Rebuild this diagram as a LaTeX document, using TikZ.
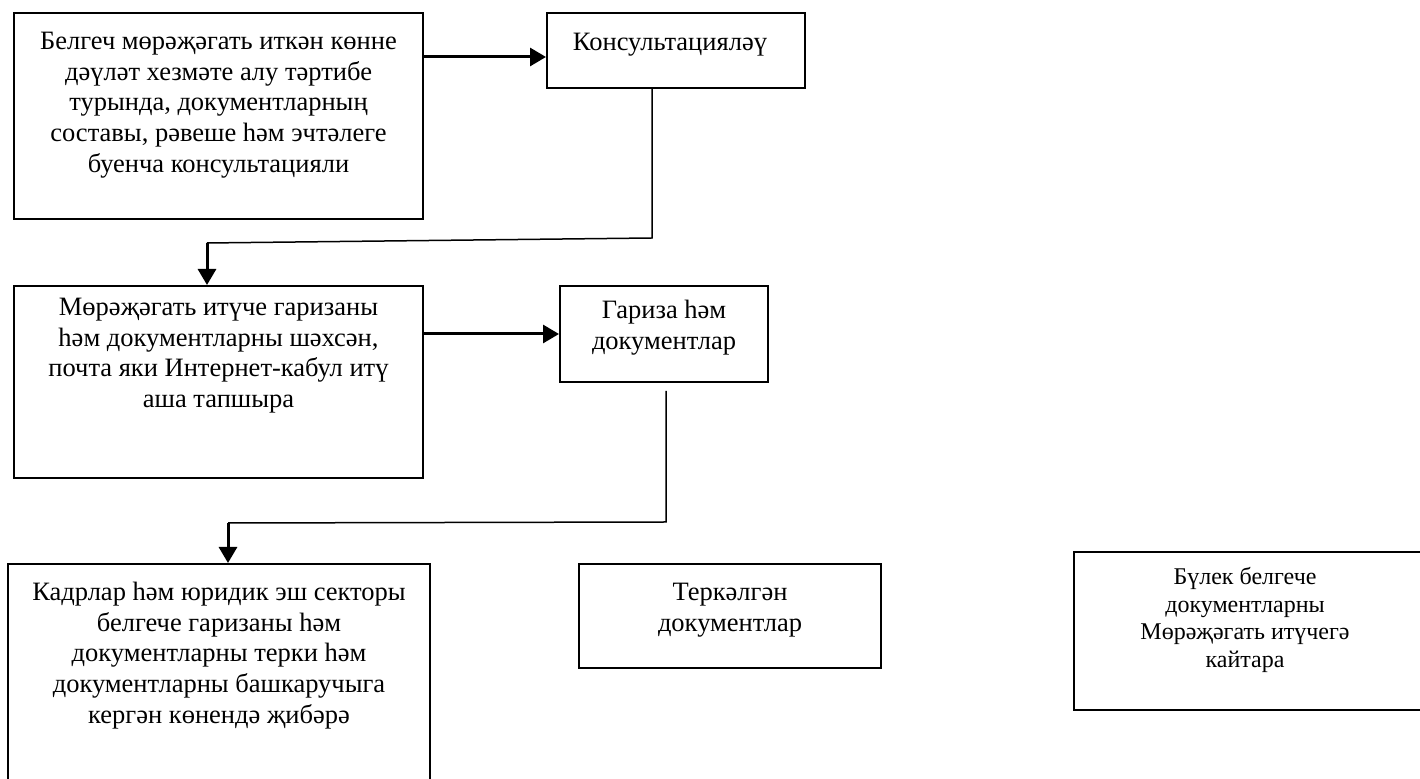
\documentclass[tikz,border=0pt]{standalone}
\usepackage{fontspec}
\setmainfont{Liberation Serif}
\usetikzlibrary{arrows.meta,fit,calc}
\tikzset{
  box/.style={draw, line width=1pt, inner sep=0pt},
  txt/.style={anchor=north, inner sep=0pt, align=center, font=\fontsize{13.25}{15.35}\selectfont},
  smalltxt/.style={txt, font=\fontsize{12}{13.85}\selectfont},
  thinline/.style={line width=0.75pt},
  flow/.style={line width=1.5pt, -{Triangle[length=8pt,width=9pt]}},
}
\begin{document}
\begin{tikzpicture}[x=0.5pt,y=-0.5pt]
\useasboundingbox[fill=white] (0,0) rectangle (1420,779);

% boxes
\node[box, fit={(14,13)(423,219)}] (b1) {};
\node[box, fit={(547,13)(805,88)}] (b2) {};
\node[box, fit={(14,286)(423,478)}] (b3) {};
\node[box, fit={(560,286)(768,382)}] (b4) {};
\node[box, fit={(8,564)(430,795)}] (b5) {};
\node[box, fit={(579,564)(881,668)}] (b6) {};
\node[box, fit={(1074,552)(1424,710)}] (b7) {};

% texts
\node[txt] (t1) at (218.5,27.5) {\strut Белгеч мөрәҗәгать иткән көнне\\дәүләт хезмәте алу тәртибе\\турында, документларның\\составы, рәвеше һәм эчтәлеге\\буенча консультацияли};
\node[txt] (t2) at (670,28.5) {\strut Консультацияләү};
\node[txt] (t3) at (218.5,293.5) {\strut Мөрәҗәгать итүче гаризаны\\һәм документларны шәхсән,\\почта яки Интернет-кабул итү\\аша тапшыра};
\node[txt] (t4) at (664,296.5) {\strut Гариза һәм\\документлар};
\node[txt] (t5) at (219,578.5) {\strut Кадрлар һәм юридик эш секторы\\белгече гаризаны һәм\\документларны терки һәм\\документларны башкаручыга\\кергән көнендә җибәрә};
\node[txt] (t6) at (730,578.5) {\strut Теркәлгән\\документлар};
\node[smalltxt] (t7) at (1245,564.6) {\strut Бүлек белгече\\документларны\\Мөрәҗәгать итүчегә\\кайтара};

% connectors
\coordinate (a1) at (0,57);
\coordinate (a2) at (0,334);
\draw[flow] (b1.east |- a1) -- (b2.west |- a1);
\draw[flow] (b3.east |- a2) -- (b4.west |- a2);

\coordinate (k1) at (652,238);
\coordinate (k2) at (207,243);
\draw[thinline] (b2.south -| k1) -- (k1) -- (k2);
\draw[flow] (k2) -- (k2 |- b3.north);

\coordinate (k4) at (666,522);
\coordinate (k5) at (228,523);
\draw[thinline] ($(b4.south -| k4)+(0,8)$) -- (k4) -- (k5);
\draw[flow] (k5) -- (k5 |- b5.north);
\end{tikzpicture}
\end{document}
